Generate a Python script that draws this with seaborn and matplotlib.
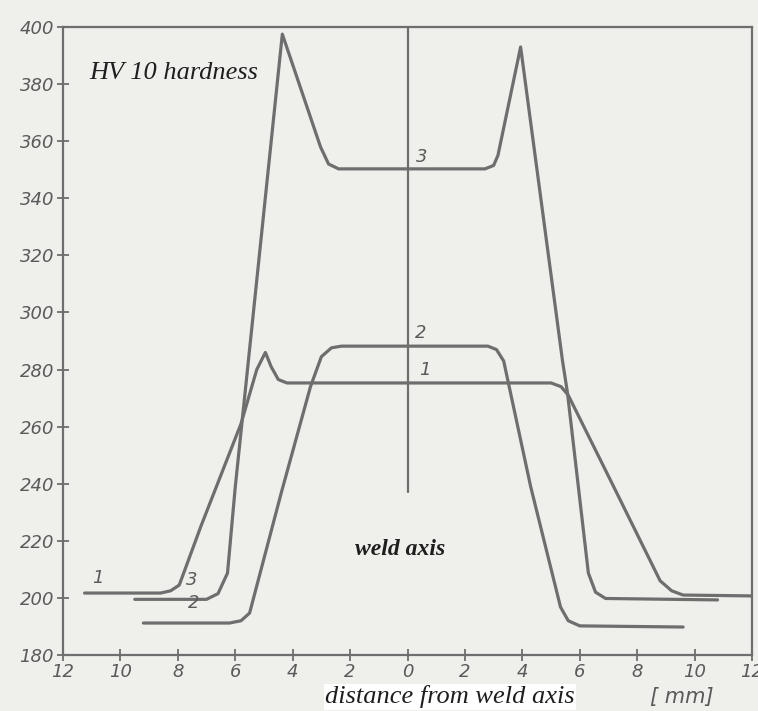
import matplotlib
matplotlib.use("Agg")
import matplotlib.pyplot as plt
import seaborn as sns
import pandas as pd

# ---- data ----
# distance from weld axis [mm] (negative = left side) and HV 10 hardness
c1_x = [-11.25, -8.6, -8.25, -7.95, -7.2, -5.8, -5.25, -4.95, -4.75, -4.5, -4.2, 5.0, 5.35, 5.6, 7.18, 8.8, 9.2, 9.6, 12.0]
c1_y = [201.7, 201.7, 202.5, 204.5, 225, 261, 280, 286, 281, 276.5, 275.3, 275.3, 274, 271, 239, 206, 202.5, 201, 200.7]

c2_x = [-9.2, -6.2, -5.8, -5.5, -4.4, -3.38, -3.0, -2.65, -2.3, 2.8, 3.1, 3.35, 4.29, 5.33, 5.6, 6.0, 9.6]
c2_y = [191.2, 191.2, 192.0, 194.7, 236.7, 274, 284.5, 287.6, 288.2, 288.2, 287, 283, 239, 196.8, 192, 190.2, 189.8]

c3_x = [-9.5, -7.0, -6.6, -6.27, -6.0, -5.54, -4.36, -3.03, -2.75, -2.4, 2.7, 3.0, 3.15, 3.94, 5.4, 5.57, 6.3, 6.55, 6.9, 10.8]
c3_y = [199.5, 199.5, 201.5, 208.7, 238.8, 283.3, 397.5, 358, 352, 350.3, 350.3, 351.5, 355, 393, 283, 272, 208.7, 202, 199.8, 199.3]

axis_x = [0, 0]
axis_y = [237, 400]

curve_labels = ["1", "2", "3"]
label_left_x = [-10.8, -7.45, -7.5]
label_left_y = [203.8, 195.0, 203.0]
label_mid_x = [0.6, 0.45, 0.5]
label_mid_y = [280.0, 292.8, 354.5]

x_ticks = [-12, -10, -8, -6, -4, -2, 0, 2, 4, 6, 8, 10, 12]
x_ticklabels = ["12", "10", "8", "6", "4", "2", "0", "2", "4", "6", "8", "10", "12"]
y_ticks = [180, 200, 220, 240, 260, 280, 300, 320, 340, 360, 380, 400]

# ---- style ----
sns.set_theme(style="white")
BG = "#efefec"
LINE = "#6e6e6e"
plt.rcParams["font.family"] = ["DejaVu Sans"]

fig = plt.figure(figsize=(7.58, 7.11), dpi=100, facecolor=BG)
ax = fig.add_axes([63/758, 1-655/711, (752-63)/758, (655-27)/711])
ax.set_facecolor(BG)

for xs, ys in [(c1_x, c1_y), (c2_x, c2_y), (c3_x, c3_y)]:
    df = pd.DataFrame({"x": xs, "y": ys})
    sns.lineplot(data=df, x="x", y="y", sort=False, estimator=None,
                 color=LINE, lw=2.3, ax=ax)
sns.lineplot(x=axis_x, y=axis_y, sort=False, estimator=None, color=LINE, lw=1.6, ax=ax)

ax.set_xlim(-12, 12)
ax.set_ylim(180, 400)
ax.set_xticks(x_ticks)
ax.set_xticklabels(x_ticklabels)
ax.set_yticks(y_ticks)
ax.set_xlabel("")
ax.set_ylabel("")
ax.tick_params(axis="both", direction="inout", length=9, width=1.3, color=LINE,
               labelcolor="#5a5a5a", labelsize=13, left=True, bottom=True)
ax.tick_params(axis="x", pad=1)
ax.tick_params(axis="y", pad=2)
for t in ax.get_xticklabels() + ax.get_yticklabels():
    t.set_fontstyle("italic")
for s in ax.spines.values():
    s.set_color(LINE)
    s.set_linewidth(1.6)
    s.set_visible(True)

serif = ["Liberation Serif", "DejaVu Serif"]
for lab, lx, ly in zip(curve_labels, label_left_x, label_left_y):
    ax.text(lx, ly, lab, color="#5a5a5a", fontsize=13, fontstyle="italic",
            ha="center", va="bottom")
for lab, lx, ly in zip(curve_labels, label_mid_x, label_mid_y):
    ax.text(lx, ly, lab, color="#5a5a5a", fontsize=13, fontstyle="italic",
            ha="center", va="center")

ax.text(-11.1, 384, "HV 10 hardness", family=serif, fontstyle="italic",
        fontsize=19, color="#1e1e1e", ha="left", va="center")
ax.text(-0.25, 217, "weld axis", family=serif, fontstyle="italic",
        fontweight="bold", fontsize=17, color="#1e1e1e", ha="center", va="center")

fig.text(450/758, 1-697/711, "distance from weld axis", family=serif,
         fontstyle="italic", fontsize=19, color="#1e1e1e", ha="center", va="center",
         bbox=dict(facecolor="white", edgecolor="none", pad=1))
fig.text(682/758, 1-697/711, "[ mm]", fontstyle="italic", fontsize=15,
         color="#5a5a5a", ha="center", va="center")

fig.savefig("out.png", dpi=100, facecolor=BG)
